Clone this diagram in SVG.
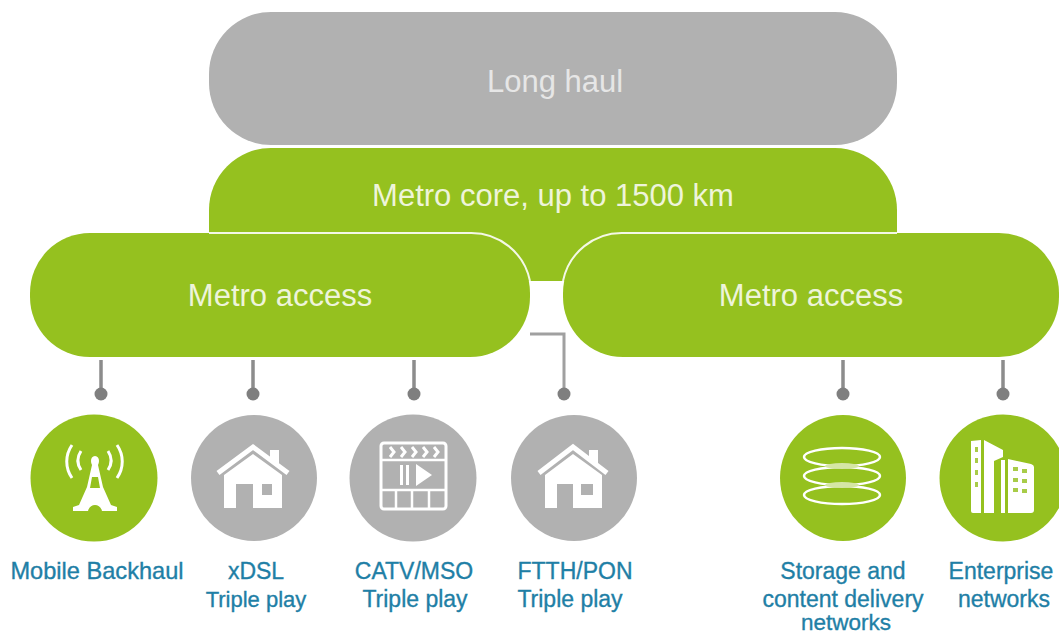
<svg xmlns="http://www.w3.org/2000/svg" width="1059" height="635" viewBox="0 0 1059 635">
<style>
.g{fill:#95c11f}.s{fill:#b1b1b1}
.t{font-family:"Liberation Sans",Arial,sans-serif;text-anchor:middle}
.w{fill:#eef4da;font-size:31px}
.b{fill:#1f7fa6;font-size:23px;stroke:#1f7fa6;stroke-width:.35}
.c{fill:none;stroke:#8c8c8c;stroke-width:3.5}
.d{fill:#7f7f7f}
.e{fill:none;stroke:#f4f8e6;stroke-width:2}
.i{fill:#fff}.l{fill:none;stroke:#fff;stroke-width:3}
.l2{fill:none;stroke:#fff;stroke-width:2.5}
</style>
<rect width="1059" height="635" fill="#fff"/>
<g id="long-haul"><rect class="s" x="209" y="12" width="688" height="133" rx="62"/><text class="t" x="555" y="92" style="fill:#e6e6e6;font-size:31px">Long haul</text></g>
<g id="metro-core"><path class="g" d="M271 148H835A62 62 0 0 1 897 210V281H209V210A62 62 0 0 1 271 148Z"/><text class="t w" x="553" y="206">Metro core, up to 1500 km</text></g>
<g id="metro-access-left"><rect class="g" x="30" y="233" width="500" height="124" rx="60"/><path class="e" d="M209 233H470A60 60 0 0 1 530 281"/><text class="t w" x="280" y="306">Metro access</text></g>
<g id="metro-access-right"><rect class="g" x="563" y="233" width="496" height="124" rx="60"/><path class="e" d="M563 281A60 60 0 0 1 623 233H897"/><text class="t w" x="811" y="306">Metro access</text></g>
<g id="connectors">
<path class="c" d="M101 360V393M253 360V393M414 360V393M843 360V393M1003 360V393"/>
<path class="c" style="stroke:#a0a0a0;stroke-width:3" d="M530 334H564V393"/>
<circle class="d" cx="101" cy="394" r="6.5"/><circle class="d" cx="253" cy="394" r="6.5"/><circle class="d" cx="414" cy="394" r="6.5"/><circle class="d" cx="564" cy="394" r="6.5"/><circle class="d" cx="843" cy="394" r="6.5"/><circle class="d" cx="1003" cy="394" r="6.5"/>
</g>
<g id="mobile-backhaul"><circle class="g" cx="94" cy="478" r="63.5"/>
<path class="i" d="M95 456C91 456 90 461 92 465L87 487L79 505L73 507V511H88C90 503 100 503 102 511H117V507L111 505L103 487L98 465C100 461 99 456 95 456ZM92 477H98L100 488H90Z"/>
<path class="l" d="M72 445C65 455 65 468 72 478M81 451C77 457 77 464 81 470M117 445C124 455 124 468 117 478M108 451C112 457 112 464 108 470"/>
<text class="t b" style="font-size:23.6px" x="97" y="579">Mobile Backhaul</text></g>
<g id="xdsl"><circle class="s" cx="254" cy="478" r="63"/>
<path class="l" style="stroke-width:5" d="M218 473L253 447L288 473"/><path class="i" d="M270 450H279V464L270 458ZM224 475L253 454L282 475V508H253V484H236V508H224Z"/><rect class="s" x="262" y="484" width="10" height="11"/>
<text class="t b" x="256" y="579">xDSL</text><text class="t b" style="font-size:22px" x="256" y="607">Triple play</text></g>
<g id="catv-mso"><circle class="s" cx="413" cy="478" r="63.5"/>
<rect class="l" x="381" y="443" width="65" height="66" rx="3"/><path class="l2" d="M381 460H446M381 490H446M396 490V509M412 490V509M429 490V509"/>
<path class="l" d="M390 447L394 452L390 457M401 447L405 452L401 457M412 447L416 452L412 457M423 447L427 452L423 457M434 447L438 452L434 457"/>
<path class="i" d="M400 465H403V485H400ZM406 465H409V485H406ZM416 464L432 475L416 486Z"/>
<text class="t b" x="414" y="579">CATV/MSO</text><text class="t b" x="415" y="607">Triple play</text></g>
<g id="ftth-pon"><circle class="s" cx="574" cy="478" r="63"/>
<path class="l" style="stroke-width:5" d="M539 473L573 447L607 473"/><path class="i" d="M589 450H598V464L589 458ZM545 475L573 454L602 475V508H573V484H557V508H545Z"/><rect class="s" x="581" y="484" width="12" height="11"/>
<text class="t b" x="575" y="579">FTTH/PON</text><text class="t b" x="570" y="607">Triple play</text></g>
<g id="storage"><circle class="g" cx="843" cy="478" r="63"/>
<g class="l2"><ellipse cx="842" cy="457" rx="38" ry="9"/><ellipse cx="842" cy="476" rx="38" ry="9"/><ellipse cx="842" cy="495" rx="38" ry="9"/><ellipse cx="842" cy="466" rx="17" ry="3" style="fill:#d5e6a5;stroke:none"/><ellipse cx="842" cy="485" rx="17" ry="3" style="fill:#d5e6a5;stroke:none"/></g>
<text class="t b" x="843" y="579">Storage and</text><text class="t b" x="843" y="607">content delivery</text><text class="t b" style="font-size:22.5px" x="846" y="630">networks</text></g>
<g id="enterprise"><circle class="g" cx="1003" cy="478" r="63.5"/>
<path class="i" d="M971 441L981 440V513H973Q971 513 971 511ZM984 440L1003 450V457L994 461V513H984ZM1001 460H1005V513H1001ZM1008 459L1031 464Q1034 465 1034 467V510Q1034 513 1031 513H1008Z"/>
<path d="M975 447h3v5h-3zM975 458h3v5h-3zM975 470h3v5h-3zM975 482h3v5h-3zM1013 467h5v4h-5zM1022 469h5v4h-5zM1013 478h5v4h-5zM1022 479h5v4h-5zM1013 488h5v4h-5zM1022 489h5v4h-5z" fill="#a8cc48"/>
<text class="t b" x="1001" y="579">Enterprise</text><text class="t b" x="1004" y="607">networks</text></g>
</svg>
